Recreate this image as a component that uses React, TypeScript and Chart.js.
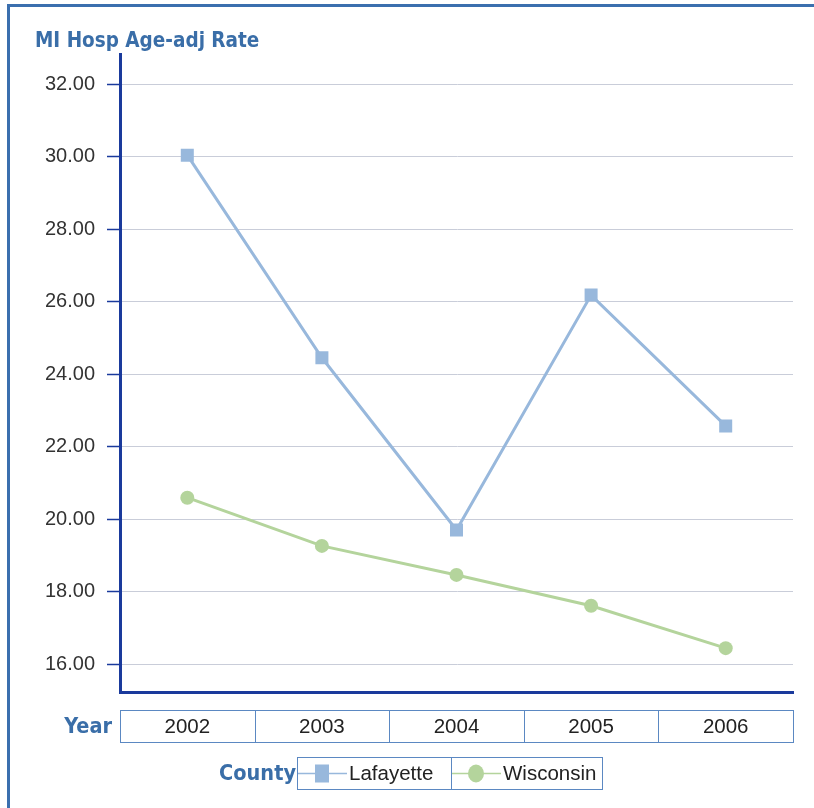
import React, { useEffect, useRef } from "react";
import { Chart, registerables } from "chart.js";

Chart.register(...registerables);

const years = ["2002", "2003", "2004", "2005", "2006"];
const lafayette = [30.04, 24.45, 19.7, 26.18, 22.57];
const wisconsin = [20.59, 19.26, 18.46, 17.61, 16.44];
const yTicks = [16, 18, 20, 22, 24, 26, 28, 30, 32];
const seriesNames = ["Lafayette", "Wisconsin"];
const titleText = "MI Hosp Age-adj Rate";
const xTitle = "Year";
const legendTitle = "County";

const BLUE = "#3a6ea8";
const LAF_COLOR = "#98b8dc";
const WIS_COLOR = "#b4d49c";
const AXIS_COLOR = "#1a3a9c";
const CELL_BORDER = "#5b88c2";
const TEXT_FONT = "20.5px 'Liberation Sans', Arial, sans-serif";
const BOLD_FONT = "'DejaVu Sans Condensed', 'DejaVu Sans', sans-serif";

const decorPlugin = {
  id: "decor",
  beforeDraw(chart: any) {
    const ctx = chart.ctx;
    ctx.save();
    ctx.fillStyle = "#ffffff";
    ctx.fillRect(0, 0, chart.width, chart.height);
    ctx.fillStyle = "#3b6fae";
    ctx.fillRect(7, 4, chart.width - 7, 3);
    ctx.fillRect(7, 4, 3, chart.height - 4);
    ctx.restore();
  },
  afterDraw(chart: any) {
    const ctx = chart.ctx;
    const xs = chart.scales.x;
    ctx.save();
    // title
    ctx.fillStyle = BLUE;
    ctx.font = "bold 20.5px " + BOLD_FONT;
    ctx.textBaseline = "middle";
    ctx.textAlign = "left";
    ctx.fillText(titleText, 35, 42);

    // year table
    const n = years.length;
    const cw = (xs.right - xs.left) / n;
    const top = 710;
    const h = 32;
    ctx.strokeStyle = CELL_BORDER;
    ctx.lineWidth = 1;
    ctx.font = TEXT_FONT;
    ctx.textAlign = "center";
    for (let i = 0; i < n; i++) {
      const cx = xs.getPixelForValue(i);
      const l = Math.round(cx - cw / 2) + 0.5;
      const r = Math.round(cx + cw / 2) + 0.5;
      ctx.strokeRect(l, top + 0.5, r - l, h);
      ctx.fillStyle = "#222";
      ctx.fillText(years[i], cx, top + h / 2 + 1);
    }
    ctx.fillStyle = BLUE;
    ctx.textAlign = "right";
    ctx.font = "bold 21.5px " + BOLD_FONT;
    ctx.fillText(xTitle, xs.left - 8, top + h / 2 + 1);

    // legend
    const ly = 757;
    const lh = 32;
    let lx = 297;
    ctx.fillText(legendTitle, lx - 1, ly + lh / 2 + 1);
    const colors = [LAF_COLOR, WIS_COLOR];
    ctx.font = TEXT_FONT;
    ctx.textAlign = "left";
    const pads = [18, 6];
    for (let i = 0; i < seriesNames.length; i++) {
      const tw = ctx.measureText(seriesNames[i]).width;
      const w = 52 + tw + pads[i];
      ctx.strokeStyle = CELL_BORDER;
      ctx.lineWidth = 1;
      ctx.strokeRect(Math.round(lx) + 0.5, ly + 0.5, Math.round(w), lh);
      const cy = ly + lh / 2 + 0.5;
      ctx.strokeStyle = colors[i];
      ctx.lineWidth = 1.5;
      ctx.beginPath();
      ctx.moveTo(lx + 1, cy);
      ctx.lineTo(lx + 50, cy);
      ctx.stroke();
      ctx.fillStyle = colors[i];
      const mx = lx + 25;
      if (i === 0) {
        ctx.fillRect(mx - 7, cy - 9, 14, 18);
      } else {
        ctx.beginPath();
        ctx.ellipse(mx, cy, 8, 9, 0, 0, Math.PI * 2);
        ctx.fill();
      }
      ctx.fillStyle = "#222";
      ctx.fillText(seriesNames[i], lx + 52, cy + 1);
      lx += Math.round(w);
    }
    ctx.restore();
  },
};

export default function App() {
  const ref = useRef<HTMLCanvasElement>(null);
  useEffect(() => {
    const chart = new Chart(ref.current!, {
      type: "line",
      data: {
        labels: years,
        datasets: [
          {
            label: seriesNames[0],
            data: lafayette,
            borderColor: LAF_COLOR,
            backgroundColor: LAF_COLOR,
            borderWidth: 3,
            pointStyle: "rect",
            pointRadius: 9.2,
            pointBorderWidth: 0,
            tension: 0,
          },
          {
            label: seriesNames[1],
            data: wisconsin,
            borderColor: WIS_COLOR,
            backgroundColor: WIS_COLOR,
            borderWidth: 3,
            pointStyle: "circle",
            pointRadius: 7,
            pointBorderWidth: 0,
            tension: 0,
          },
        ],
      },
      options: {
        animation: false,
        responsive: false,
        layout: { padding: { left: 0, top: 54, right: 21, bottom: 0 } },
        plugins: { legend: { display: false }, tooltip: { enabled: false }, title: { display: false } },
        scales: {
          x: {
            offset: true,
            grid: { display: true, color: "rgba(0,0,0,0)", drawTicks: false },
            border: { display: true, color: AXIS_COLOR, width: 3 },
            ticks: { display: false },
            afterFit: (s: any) => {
              s.height = 116;
            },
          },
          y: {
            min: 15.23,
            max: 32.83,
            afterBuildTicks: (s: any) => {
              s.ticks = yTicks.map((v) => ({ value: v }));
            },
            afterFit: (s: any) => {
              s.width = 120;
            },
            grid: { color: "#c9cdd9", lineWidth: 1, tickLength: 13, tickColor: AXIS_COLOR, tickWidth: 1.5 },
            border: { display: true, color: AXIS_COLOR, width: 3 },
            ticks: {
              padding: 12,
              color: "#333",
              font: { family: "'Liberation Sans', Arial, sans-serif", size: 20 },
              callback: (v: any) => Number(v).toFixed(2),
            },
          },
        },
      },
      plugins: [decorPlugin],
    });
    return () => chart.destroy();
  }, []);
  return (
    <div style={{ position: "absolute", left: 0, top: 0, width: 814, height: 808 }}>
      <canvas ref={ref} width={814} height={808} style={{ display: "block" }} />
    </div>
  );
}
